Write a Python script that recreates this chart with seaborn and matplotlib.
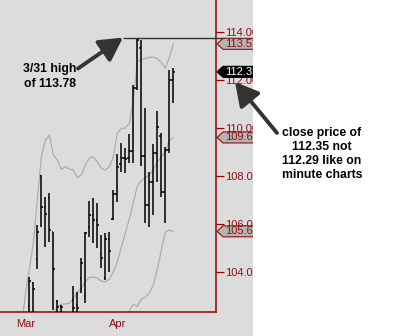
import numpy as np
import pandas as pd
import matplotlib
matplotlib.use("Agg")
import matplotlib.pyplot as plt
import matplotlib.transforms as mtransforms
from matplotlib.patches import Polygon, Rectangle, FancyArrowPatch
import seaborn as sns

# ---------------- data ----------------
bar_index = list(range(0, 37))
opens = [102.57, 103.55, 104.52, 108.00, 106.72, 107.07, 105.65, 102.80, 102.58, 101.90,
         101.70, 102.82, 102.60, 103.72, 102.99, 105.88, 106.37, 106.18, 104.74, 103.72,
         105.37, 106.20, 107.25, 108.50, 108.74, 108.74, 109.04, 111.66, 113.33, 108.83,
         106.79, 107.76, 108.95, 109.67, 107.34, 109.08, 112.01]
highs = [103.77, 103.57, 105.95, 108.04, 107.11, 107.27, 105.67, 102.82, 102.61, 102.10,
         102.00, 103.40, 103.16, 104.56, 105.67, 106.95, 107.07, 106.86, 105.53, 105.63,
         105.67, 107.41, 108.90, 109.36, 109.15, 109.75, 111.80, 113.78, 113.68, 110.83,
         108.18, 109.33, 110.73, 109.78, 109.22, 112.43, 112.50]
lows = [101.90, 101.80, 104.10, 105.88, 105.04, 105.25, 102.40, 101.80, 101.80, 101.40,
        101.30, 101.90, 102.20, 103.10, 102.68, 105.46, 105.19, 104.98, 104.14, 103.65,
        104.00, 106.16, 106.92, 108.18, 108.11, 108.53, 108.53, 111.59, 108.42, 106.05,
        105.88, 106.37, 107.76, 107.13, 106.02, 108.97, 111.03]
closes = [103.60, 103.26, 105.67, 106.72, 106.41, 105.74, 104.10, 102.54, 102.51, 101.70,
          101.90, 102.50, 102.47, 104.35, 105.63, 106.37, 106.18, 105.95, 104.56, 105.37,
          104.86, 107.25, 108.39, 108.74, 108.70, 109.04, 111.66, 113.68, 108.83, 106.79,
          107.76, 108.95, 110.03, 107.34, 109.08, 112.01, 112.35]

band_index = list(range(-2, 37))
upper_band = [101.60, 103.03, 104.08, 105.20, 107.00, 108.79, 109.50, 109.71, 108.87, 108.67,
              108.28, 108.39, 108.29, 108.25, 107.94, 108.04, 108.46, 108.74, 108.80, 108.59,
              108.32, 108.25, 108.39, 108.80, 109.78, 109.99, 110.00, 110.20, 111.17, 112.77,
              112.87, 112.90, 112.96, 112.97, 112.90, 112.74, 112.51, 112.93, 113.52]
middle_band = [np.nan] * 8 + [102.20, 102.54, 102.65, 102.65, 102.69, 102.86, 103.15, 103.31,
              103.59, 103.76, 103.78, 103.74, 103.61, 103.58, 103.69, 103.99, 104.41, 105.03,
              105.62, 106.20, 106.87, 107.58, 107.81, 107.93, 108.04, 108.25, 108.58, 108.79,
              109.04, 109.46, 109.61]
lower_band = [np.nan] * 26 + [102.00, 102.38, 102.65, 102.55, 102.85, 102.94, 103.12, 103.45,
              104.10, 104.90, 105.66, 105.74, 105.69]

month_ticks = [-1, 22]
month_labels = ["Mar", "Apr"]
price_ticks = [104, 106, 108, 110, 112, 114]
high_331 = 113.78

# ---------------- style ----------------
sns.set_theme(style="white")
plt.rcParams["font.family"] = ["Liberation Sans", "DejaVu Sans"]

BG = "#dcdcdc"
RED = "#990000"
TXT_RED = "#8b1010"
BAND = "#adadad"
DARK = "#333333"

W, H = 400, 336
fig = plt.figure(figsize=(W / 100, H / 100), dpi=100)
fig.patch.set_facecolor(BG)
ax = fig.add_axes([0, 24 / H, 216 / W, 312 / H])
ax.set_facecolor(BG)

# bands
bands = pd.DataFrame({"i": band_index, "upper": upper_band,
                      "middle": middle_band, "lower": lower_band})
for col in ["upper", "middle", "lower"]:
    d = bands[["i", col]].dropna()
    sns.lineplot(data=d, x="i", y=col, ax=ax, color=BAND, lw=0.9,
                 estimator=None, sort=True, legend=False)

# OHLC bars
idx = np.array(bar_index, dtype=float)
ax.vlines(idx, lows, highs, color="black", lw=1.1, zorder=3)
ax.hlines(opens, idx - 0.45, idx, color="black", lw=1.1, zorder=3)
ax.hlines(closes, idx, idx + 0.45, color="black", lw=1.1, zorder=3)

ax.set_xlim(-7.33, 46.68)
ax.set_ylim(102.32, 115.35)
ax.set_xlabel("")
ax.set_ylabel("")

# horizontal line at the high
ax.hlines(high_331, 23.4, 48.7, color=DARK, lw=1.0, clip_on=False, zorder=4)

# spines / ticks
for s in ["left", "top"]:
    ax.spines[s].set_visible(False)
for s in ["right", "bottom"]:
    ax.spines[s].set_color(RED)
    ax.spines[s].set_linewidth(1.1)
ax.yaxis.tick_right()
ax.set_yticks(price_ticks)
ax.set_yticklabels([f"{v:.2f}" for v in price_ticks])
ax.set_xticks(month_ticks)
ax.set_xticklabels(month_labels)
ax.tick_params(axis="y", direction="out", length=6, width=0.9, color=RED,
               labelcolor=TXT_RED, labelsize=8, pad=0.3)
ax.tick_params(axis="x", direction="out", length=3, width=0.9, color=RED,
               labelcolor=TXT_RED, labelsize=8, pad=2)
ax.grid(False)

# price tags on the right axis
blend = mtransforms.blended_transform_factory(ax.transAxes, ax.transData)
hh = 5.5 / 23.94
tags = [(upper_band[-1], "#b4b4b4", TXT_RED, TXT_RED),
        (middle_band[-1], "#b4b4b4", TXT_RED, TXT_RED),
        (lower_band[-1], "#b4b4b4", TXT_RED, TXT_RED),
        (closes[-1], "black", "black", "white")]
for v, fc, ec, tc in tags:
    pts = [(217 / 216, v), (223 / 216, v + hh), (262 / 216, v + hh),
           (262 / 216, v - hh), (223 / 216, v - hh)]
    ax.add_patch(Polygon(pts, closed=True, transform=blend, facecolor=fc,
                         edgecolor=ec, lw=0.8, clip_on=False, zorder=5))
    ax.text(225.5 / 216, v, f"{v:.2f}", transform=blend, ha="left", va="center",
            fontsize=8, color=tc, clip_on=False, zorder=6)

# left annotation
ax.annotate("", xy=(23.4, high_331), xycoords="data",
            xytext=(78 / W, 1 - 68.5 / H), textcoords="figure fraction",
            arrowprops=dict(arrowstyle="-|>,head_length=1.0,head_width=0.55",
                            color=DARK, lw=2.8, shrinkA=0, shrinkB=0,
                            mutation_scale=14))
fig.text(50 / W, 1 - 76.5 / H, "3/31 high\nof 113.78", ha="center", va="center",
         fontsize=8.8, fontweight="bold", color="black", linespacing=1.25, zorder=11)

# white area on the right
fig.add_artist(Rectangle((253 / W, 0), 1 - 253 / W, 1, transform=fig.transFigure,
                         facecolor="white", edgecolor="none", zorder=10))

# right annotation
fig.add_artist(FancyArrowPatch((277 / W, 1 - 133 / H), (235 / W, 1 - 82 / H),
                               transform=fig.transFigure,
                               arrowstyle="-|>,head_length=1.0,head_width=0.55",
                               mutation_scale=14, color=DARK, lw=2.8,
                               shrinkA=0, shrinkB=0, zorder=12))
fig.text(322 / W, 1 - 154 / H, "close price of\n112.35 not\n112.29 like on\nminute charts",
         ha="center", va="center", fontsize=8.8, fontweight="bold", color="black",
         linespacing=1.23, zorder=11)

fig.savefig("out.png", dpi=100, facecolor=fig.get_facecolor())
